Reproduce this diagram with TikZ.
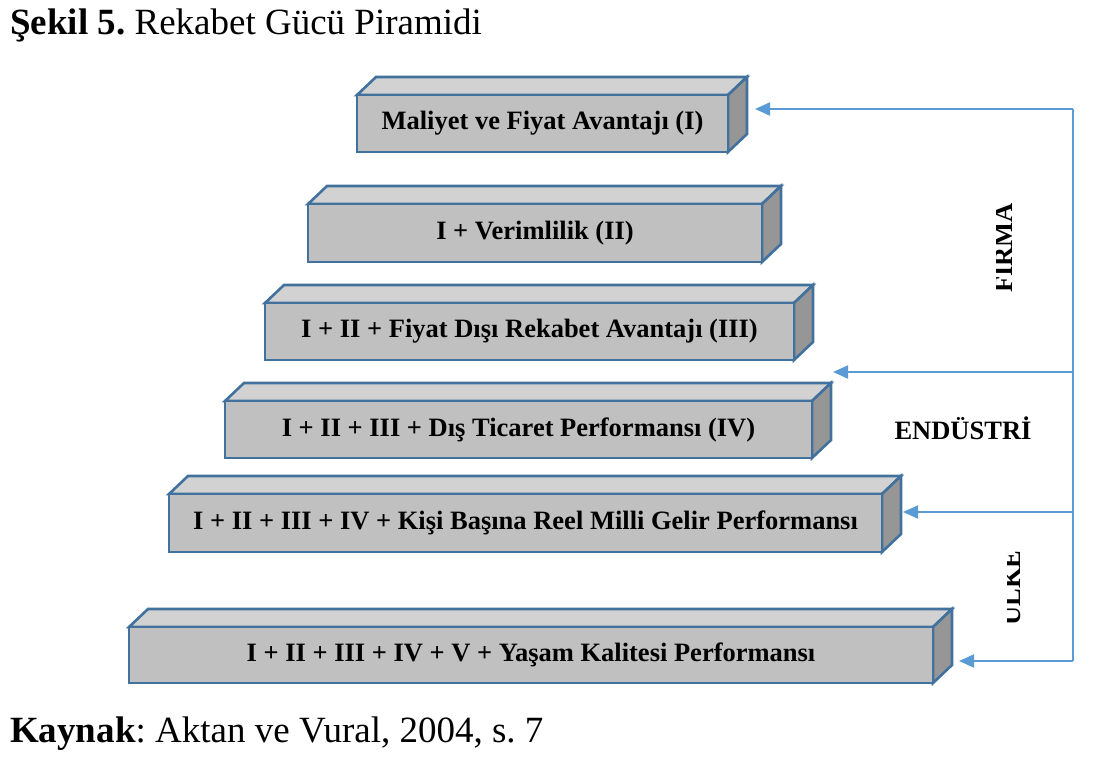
\documentclass[tikz,border=0pt]{standalone}
\usepackage{fontspec}
\setmainfont{Liberation Serif}
\usetikzlibrary{arrows.meta}
\frenchspacing
\definecolor{edgeblue}{HTML}{41719C}
\definecolor{arrowblue}{HTML}{5B9BD5}
\definecolor{frontgray}{HTML}{C0C0C0}
\definecolor{topgray}{HTML}{D2D2D2}
\definecolor{sidegray}{HTML}{969696}
\tikzset{
  facebox/.style={draw=edgeblue, line width=2.6pt, line join=miter},
  frontbox/.style={facebox, fill=frontgray, rectangle, inner sep=0pt, outer sep=0pt,
     font=\fontsize{26.5}{30}\selectfont\bfseries},
  feed/.style={draw=arrowblue, line width=2pt},
  feedarrow/.style={feed, -{Triangle[length=15pt,width=13pt]}},
  sidelabel/.style={font=\fontsize{26.5}{30}\selectfont\bfseries, inner sep=0pt},
}
\newcommand{\pyrbox}[6]{%
  \draw[facebox, fill=topgray] (#2,#3) -- ({#2+19},{#3-18}) -- ({#4+19},{#3-18}) -- (#4,#3) -- cycle;
  \draw[facebox, fill=sidegray] (#4,#3) -- ({#4+19},{#3-18}) -- ({#4+19},{#5-18}) -- (#4,#5) -- cycle;
  \node[frontbox, minimum width={(#4-#2)*1pt}, minimum height={(#5-#3)*1pt}] (#1) at ({(#2+#4)/2},{(#3+#5)/2}) {#6};
}
\begin{document}
\begin{tikzpicture}[x=1pt, y=-1pt]
\useasboundingbox (0,0) rectangle (1097,773);
% caption
\node[anchor=base west, inner sep=0pt, font=\fontsize{37}{40}\selectfont] (cap) at (10,35) {\textbf{Şekil 5.} Rekabet Gücü Piramidi};
% boxes
\pyrbox{b1}{357}{95}{728}{152}{Maliyet ve Fiyat Avantajı (I)}
\pyrbox{b2}{308}{204}{762}{262}{I + Verimlilik (II)}
\pyrbox{b3}{265}{303}{794}{360}{I + II + Fiyat Dışı Rekabet Avantajı (III)}
\pyrbox{b4}{225}{401}{812}{458}{I + II + III + Dış Ticaret Performansı (IV)}
\pyrbox{b5}{169}{494}{882}{552}{I + II + III + IV + Kişi Başına Reel Milli Gelir Performansı}
\pyrbox{b6}{129}{627}{933}{683}{I + II + III + IV + V + Yaşam Kalitesi Performansı}
% feedback line
\coordinate (c1) at (1073,109);
\coordinate (c3) at (1073,372);
\coordinate (c5) at (1073,512);
\coordinate (c6) at (1073,661);
\coordinate (t1) at (755,109);
\coordinate (t3) at (833,372);
\coordinate (t5) at (903,512);
\coordinate (t6) at (959,661);
\draw[feed] (c1) -- (c6);
\draw[feedarrow] (c1) -- (t1);
\draw[feedarrow] (c3) -- (t3);
\draw[feedarrow] (c5) -- (t5);
\draw[feedarrow] (c6) -- (t6);
% side labels
\begin{scope}
\clip (996,180) rectangle (1060,310);
\node[sidelabel, rotate=90, anchor=base] (firma) at (1012,248) {FİRMA};
\end{scope}
\node[sidelabel] (endustri) at (963,428) {ENDÜSTRİ};
\begin{scope}
\clip (1007,530) rectangle (1060,640);
\node[sidelabel, rotate=90, anchor=base] (ulke) at (1020,588) {ÜLKE};
\end{scope}
% source
\node[anchor=base west, inner sep=0pt, font=\fontsize{37}{40}\selectfont] (src) at (10,742) {\textbf{Kaynak}: Aktan ve Vural, 2004, s. 7};
\end{tikzpicture}
\end{document}
